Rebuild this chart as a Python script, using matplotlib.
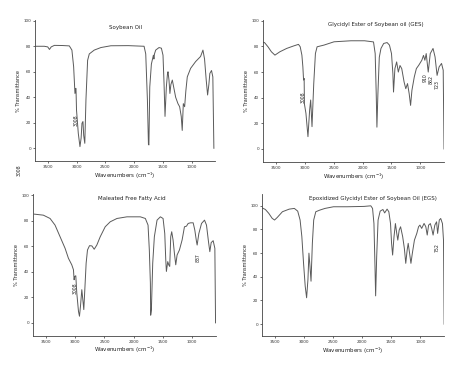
import matplotlib
matplotlib.use('Agg')
import matplotlib.pyplot as plt

# Soybean oil
so_wn = [3705, 3560, 3500, 3470, 3440, 3385, 3250, 3125, 3080, 3050, 3027, 3012, 3008, 3000,
         2969, 2940, 2920, 2905, 2888, 2875, 2856, 2836, 2807, 2778, 2692, 2576, 2403, 2100,
         1826, 1797, 1768, 1750, 1742, 1727, 1699, 1664, 1655, 1645, 1624, 1566, 1525, 1497,
         1479, 1462, 1439, 1420, 1410, 1393, 1377, 1360, 1335, 1277, 1237, 1208, 1180, 1163,
         1144, 1121, 1100, 1075, 1017, 930, 844, 803, 775, 746, 722, 700, 683, 654, 631, 613]
so_t = [80, 80, 79.5, 77.5, 79.5, 80.7, 80.6, 80.3, 77, 64, 43, 47, 45, 30,
        11.7, 1.3, 8, 19.6, 21, 10, 3.9, 38, 69, 74, 77, 79, 80.4, 80.5,
        80, 74, 38, 3, 2.6, 48, 66, 73, 70, 74, 77, 79, 78.5, 73,
        51, 25, 48, 58, 60, 53.5, 43, 50, 53.5, 40, 35, 32.6, 25, 14,
        35, 32.6, 45, 56, 62.7, 68, 72, 77, 70, 53.5, 41.8, 50, 58.7, 61, 56, 0]

# Glycidyl ester of soybean oil (GES)
ges_wn = [3740, 3693, 3635, 3576, 3515, 3430, 3313, 3196, 3108, 3078, 3049, 3032, 3020, 3010,
          3005, 2979, 2944, 2915, 2897, 2874, 2844, 2815, 2786, 2669, 2493, 2200, 1966, 1811,
          1782, 1764, 1752, 1735, 1711, 1682, 1635, 1576, 1535, 1500, 1476, 1465, 1441, 1411,
          1382, 1353, 1323, 1282, 1253, 1223, 1194, 1170, 1147, 1106, 1070, 1029, 976, 947,
          923, 900, 865, 830, 782, 747, 712, 677, 635, 606, 592]
ges_t = [83.6, 82.9, 79.7, 75.8, 73.2, 75.8, 78.4, 80.3, 81.6, 79.7, 73.2, 64, 53.8, 55,
         35, 27.8, 9.6, 30.4, 38.2, 17.4, 51, 74.5, 79.7, 81, 83.6, 84.4, 84.4, 83.5,
         74.4, 43, 17, 43, 71.5, 78.4, 82.3, 83, 81, 74.4, 58.8, 44.4, 62.7, 67.9,
         60, 65.1, 62.7, 52.2, 47, 51, 43, 34, 45.7, 56.2, 62.7, 65.3, 69.2, 73,
         69.2, 74.4, 60, 74.4, 78.4, 71.8, 57.4, 64, 66.7, 61.4, 0]

# Maleated free fatty acid
mfa_wn = [3700, 3546, 3431, 3346, 3260, 3174, 3117, 3060, 3031, 3020, 3008, 2991, 2974, 2945,
          2928, 2911, 2888, 2865, 2854, 2831, 2814, 2791, 2756, 2716, 2676, 2631, 2573, 2488,
          2402, 2287, 2116, 1887, 1801, 1755, 1733, 1715, 1710, 1698, 1675, 1647, 1601, 1544,
          1498, 1469, 1452, 1441, 1418, 1401, 1384, 1367, 1350, 1327, 1304, 1281, 1258, 1218,
          1172, 1132, 1097, 1069, 1029, 983, 955, 926, 915, 886, 840, 789, 755, 721, 698,
          675, 641, 612, 600]
mfa_t = [85.2, 84.4, 81.8, 76.6, 67.5, 58.4, 50.6, 45.5, 41.6, 33.8, 36.4, 36.9, 23.4, 9,
         5.2, 13, 26, 15.6, 10.4, 31.2, 46.8, 57.1, 60.5, 60.3, 57.7, 61, 67.5, 75.3,
         79.2, 81.8, 83.1, 83.1, 81.8, 76.6, 57.1, 31.2, 6, 10, 46.8, 67.5, 80.5, 83.1,
         81.8, 70, 49.4, 40.3, 48, 45.5, 44.2, 67.5, 71.4, 65, 54.5, 45.5, 53.2, 57.1,
         65, 75.3, 75.8, 77.9, 78.4, 78.4, 72.7, 63.6, 61, 70, 77.9, 80.5, 76.6, 63.6, 55.8,
         62.9, 64.4, 58.4, 0]

# Epoxidized glycidyl ester of soybean oil (EGS)
egs_wn = [3734, 3664, 3605, 3547, 3506, 3459, 3371, 3254, 3166, 3108, 3067, 3037, 3008, 2979,
          2955, 2932, 2915, 2897, 2879, 2856, 2833, 2797, 2727, 2639, 2493, 2259, 1966, 1851,
          1821, 1797, 1779, 1768, 1750, 1726, 1690, 1643, 1613, 1571, 1541, 1512, 1494, 1476,
          1452, 1428, 1405, 1387, 1363, 1339, 1303, 1274, 1250, 1226, 1208, 1184, 1161, 1137,
          1101, 1060, 1030, 1006, 976, 935, 905, 881, 857, 827, 804, 780, 750, 720, 702,
          673, 649, 619, 601, 590]
egs_t = [98.6, 96.9, 93.6, 89.4, 88, 90.2, 95, 97.2, 97.8, 95.5, 88, 74, 51.7, 32,
         22.3, 37.7, 60, 48.9, 36.3, 68.4, 88, 95, 96.4, 97.8, 99.2, 99.2, 99.5, 100,
         97.8, 85, 48.6, 23.9, 57, 88, 95.5, 96.9, 94, 97.2, 95, 85, 68.3, 58.4,
         73.9, 85, 76.7, 71, 79.5, 82.3, 73.9, 64, 51.4, 62.6, 68.3, 59.8, 51.4, 59.8,
         71, 76.7, 82.3, 83.7, 80.9, 85.1, 82.3, 75.3, 83.7, 85, 80.9, 75.3, 83.7, 86.5, 76.7,
         88, 89.3, 85, 71, 0]

xticks = [3500, 3000, 2500, 2000, 1500, 1000]
yticks = [0, 20, 40, 60, 80, 100]

fig = plt.figure(figsize=(4.74, 3.66), dpi=100)
fig.patch.set_facecolor('white')

# rect, x, y, title, title position (axes fraction), top of y range
panels = [
    ([0.074, 0.560, 0.380, 0.385], so_wn, so_t, 'Soybean Oil', (0.50, 0.945), 100.5),
    ([0.555, 0.558, 0.382, 0.387], ges_wn, ges_t, 'Glycidyl Ester of Soybean oil (GES)', (0.62, 0.97), 100.5),
    ([0.070, 0.083, 0.386, 0.387], mfa_wn, mfa_t, 'Maleated Free Fatty Acid', (0.54, 0.97), 101),
    ([0.553, 0.082, 0.384, 0.388], egs_wn, egs_t, 'Epoxidized Glycidyl Ester of Soybean Oil (EGS)', (0.61, 0.97), 110),
]

axes = []
for rect, wn, t, title, tpos, ytop in panels:
    ax = fig.add_axes(rect)
    ax.plot(wn, t, color='#5a5a5a', lw=0.7)
    ax.set_xlim(3720, 590)
    ax.set_ylim(-10, ytop)
    ax.set_xticks(xticks)
    ax.set_yticks(yticks)
    ax.spines['top'].set_visible(False)
    ax.spines['right'].set_visible(False)
    for s in ('left', 'bottom'):
        ax.spines[s].set_color('#444444')
        ax.spines[s].set_linewidth(0.6)
    ax.tick_params(axis='both', labelsize=3, length=1.5, width=0.5, pad=1.5,
                   colors='#333333', direction='out')
    ax.set_xlabel('Wavenumbers (cm$^{-1}$)', fontsize=4, labelpad=1, color='#222222')
    ax.set_ylabel('% Transmittance', fontsize=3.6, labelpad=1.5, color='#222222')
    ax.text(tpos[0], tpos[1], title, transform=ax.transAxes, fontsize=4,
            ha='center', va='center', color='#222222')
    axes.append(ax)

ann = dict(fontsize=3.3, rotation=90, color='#222222', ha='center', va='center')
axes[0].text(3000, 22, '3008', **ann)
axes[1].text(3030, 40, '3008', **ann)
axes[1].text(910, 56, '910', **ann)
axes[1].text(822, 54, '862', **ann)
axes[1].text(715, 50, '723', **ann)
axes[2].text(3010, 27, '3008', **ann)
axes[2].text(900, 51, '837', **ann)
axes[3].text(710, 65, '752', **ann)

fig.text(0.040, 0.535, '3008', **ann)

fig.savefig('out.png', dpi=100)
